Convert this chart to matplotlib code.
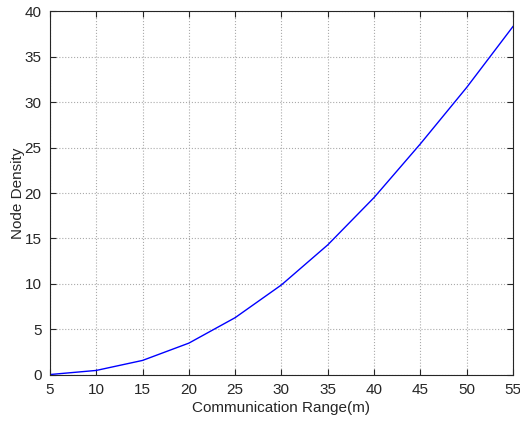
import matplotlib
matplotlib.use("Agg")
import matplotlib.pyplot as plt

# communication range (m) vs node density
comm_range = [5, 10, 15, 20, 25, 30, 35, 40, 45, 50, 55]
node_density = [0.05, 0.5, 1.6, 3.5, 6.3, 9.9, 14.3, 19.5, 25.4, 31.6, 38.3]

plt.rcParams['font.family'] = ['Liberation Sans', 'DejaVu Sans']
plt.rcParams['font.size'] = 11

fig = plt.figure(figsize=(5.2, 4.24), dpi=100)
ax = fig.add_axes([0.096, 0.1156, 0.8905, 0.8584])

ax.plot(comm_range, node_density, color='blue', linewidth=1.0)

ax.set_xlim(5, 55)
ax.set_ylim(0, 40)
ax.set_xticks(range(5, 56, 5))
ax.set_yticks(range(0, 41, 5))
ax.grid(True, linestyle=':', color='#aaaaaa', linewidth=0.8)
ax.tick_params(direction='in', top=True, right=True, length=4, colors='#262626',
               labelsize=11, pad=6)
for s in ax.spines.values():
    s.set_color('#262626')
    s.set_linewidth(0.8)

ax.set_xlabel('Communication Range(m)', color='#262626', labelpad=3)
ax.set_ylabel('Node Density', color='#262626', labelpad=0)

fig.savefig('out.png', dpi=100)
